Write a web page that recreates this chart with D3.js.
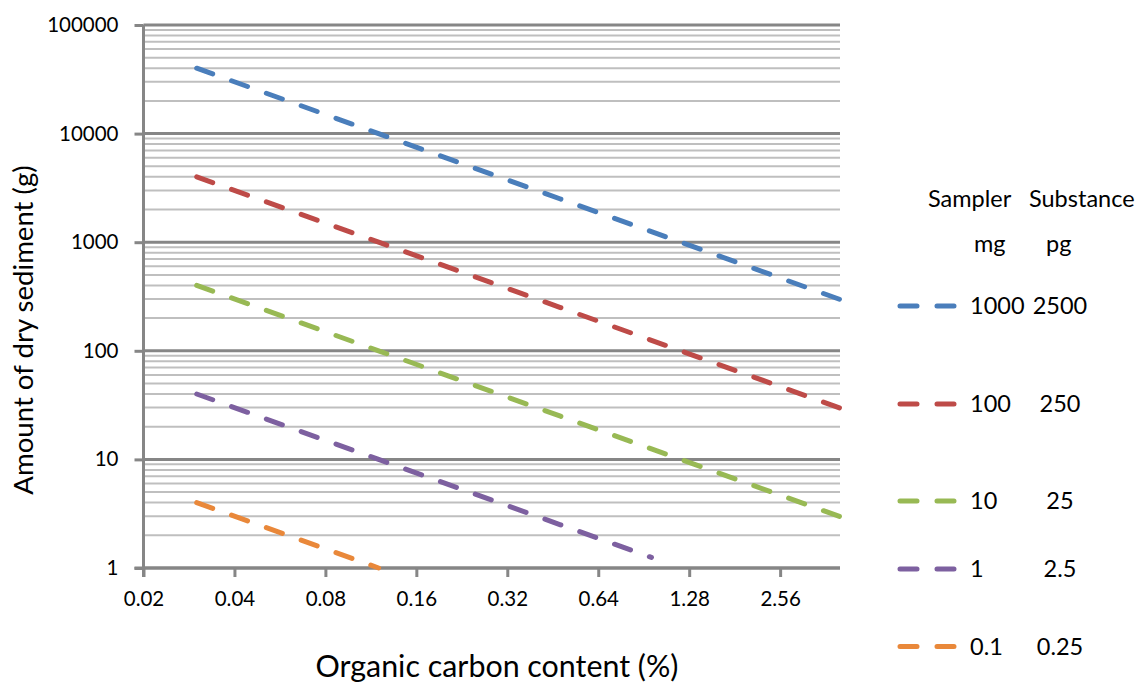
<!DOCTYPE html>
<html><head><meta charset="utf-8">
<script src="https://cdn.jsdelivr.net/npm/d3@7"></script>
<style>
body{margin:0;background:#fff;}
svg text{font-family:Lato,"Open Sans",sans-serif;fill:#000;}
</style>
</head><body>
<svg id="chart" width="1144" height="682"></svg>
<script>
// ---- data ----
const xValues     = [0.03, 0.06, 0.12, 0.24, 0.48, 0.96, 1.92, 4.04];
const sampler1000 = [40000, 20000, 10000, 5000, 2500, 1250, 625, 297];
const sampler100  = [4000, 2000, 1000, 500, 250, 125, 62.5, 29.7];
const sampler10   = [400, 200, 100, 50, 25, 12.5, 6.25, 2.97];
const sampler1    = [40, 20, 10, 5, 2.5, 1.25, null, null];
const sampler01   = [4, 2, 1, null, null, null, null, null];
const samplerMg   = ["1000", "100", "10", "1", "0.1"];
const substancePg = ["2500", "250", "25", "2.5", "0.25"];
const xTickValues = [0.02, 0.04, 0.08, 0.16, 0.32, 0.64, 1.28, 2.56];
const xTickLabels = ["0.02", "0.04", "0.08", "0.16", "0.32", "0.64", "1.28", "2.56"];
const yTickValues = [1, 10, 100, 1000, 10000, 100000];
const yTickLabels = ["1", "10", "100", "1000", "10000", "100000"];
const xDomain = [0.02, 4.04];
const yDomain = [1, 100000];

// ---- layout / style ----
const colors = ["#4A7EBB", "#BE4B48", "#98B954", "#7D60A0", "#E9883A"];
const seriesValues = [sampler1000, sampler100, sampler10, sampler1, sampler01];
const plot = {left: 143.5, right: 840, top: 25, bottom: 568};
const legendRowY = [306, 404, 501, 569, 646.5];
const tickFs = 20.5, legendFs = 23.5, xTitleFs = 30.4, yTitleFs = 27.6;

const svg = d3.select("#chart");
const x = d3.scaleLog().base(2).domain(xDomain).range([plot.left, plot.right]);
const y = d3.scaleLog().base(10).domain(yDomain).range([plot.bottom, plot.top]);

// gridlines
const minor = y.ticks().filter(v => !yTickValues.includes(v));
svg.append("g").selectAll("line").data(minor).join("line")
  .attr("x1", plot.left).attr("x2", plot.right)
  .attr("y1", d => y(d)).attr("y2", d => y(d))
  .attr("stroke", "#BFBFBF").attr("stroke-width", 2);
svg.append("g").selectAll("line").data(yTickValues).join("line")
  .attr("x1", plot.left).attr("x2", plot.right)
  .attr("y1", d => y(d)).attr("y2", d => y(d))
  .attr("stroke", "#868686").attr("stroke-width", 3);

// axes
const yAxis = d3.axisLeft(y).tickValues(yTickValues)
  .tickFormat((d, i) => yTickLabels[i]).tickSize(9).tickPadding(16);
const gy = svg.append("g").attr("transform", `translate(${plot.left},0)`).call(yAxis);
gy.attr("font-family", null).attr("font-size", null);
gy.select(".domain").attr("stroke", "#868686").attr("stroke-width", 3)
  .attr("d", `M0,${plot.top}V${plot.bottom + 9}`);
gy.selectAll(".tick line").attr("stroke", "#868686").attr("stroke-width", 3);
gy.selectAll(".tick text").attr("font-size", tickFs).attr("fill", "#000");

const xAxis = d3.axisBottom(x).tickValues(xTickValues)
  .tickFormat((d, i) => xTickLabels[i]).tickSize(9).tickPadding(14);
const gx = svg.append("g").attr("transform", `translate(0,${plot.bottom})`).call(xAxis);
gx.attr("font-family", null).attr("font-size", null);
gx.select(".domain").attr("stroke", "#868686").attr("stroke-width", 3)
  .attr("d", `M${plot.left - 9},0H${plot.right}`);
gx.selectAll(".tick line").attr("stroke", "#868686").attr("stroke-width", 3);
gx.selectAll(".tick text").attr("font-size", tickFs).attr("fill", "#000")
  .attr("dy", "0.71em");

// series
const line = d3.line().defined(d => d[1] != null).x(d => x(d[0])).y(d => y(d[1]));
seriesValues.forEach((vals, i) => {
  const pts = xValues.map((xv, j) => [xv, vals[j]]).filter(d => d[1] != null);
  svg.append("path").datum(pts).attr("d", line)
    .attr("fill", "none").attr("stroke", colors[i]).attr("stroke-width", 5)
    .attr("stroke-linecap", "round").attr("stroke-dasharray", "17 20");
});

// axis titles
svg.append("text").attr("x", 497).attr("y", 677)
  .attr("text-anchor", "middle").attr("font-size", xTitleFs).text("Organic carbon content (%)");
svg.append("text").attr("transform", "translate(33,330) rotate(-90)")
  .attr("text-anchor", "middle").attr("font-size", yTitleFs).text("Amount of dry sediment (g)");

// legend
const lg = svg.append("g");
lg.append("text").attr("x", 928).attr("y", 207).attr("font-size", legendFs).text("Sampler");
lg.append("text").attr("x", 1029).attr("y", 207).attr("font-size", legendFs).text("Substance");
lg.append("text").attr("x", 974).attr("y", 252).attr("font-size", legendFs).text("mg");
lg.append("text").attr("x", 1046).attr("y", 252).attr("font-size", legendFs).text("pg");
samplerMg.forEach((m, i) => {
  const yy = legendRowY[i];
  lg.append("line").attr("x1", 900).attr("x2", 954).attr("y1", yy).attr("y2", yy)
    .attr("stroke", colors[i]).attr("stroke-width", 5).attr("stroke-linecap", "round")
    .attr("stroke-dasharray", "17 20");
  lg.append("text").attr("x", 970).attr("y", yy).attr("dy", "0.35em")
    .attr("font-size", legendFs).text(m);
  lg.append("text").attr("x", 1060).attr("y", yy).attr("dy", "0.35em")
    .attr("text-anchor", "middle").attr("font-size", legendFs).text(substancePg[i]);
});
</script>
</body></html>
